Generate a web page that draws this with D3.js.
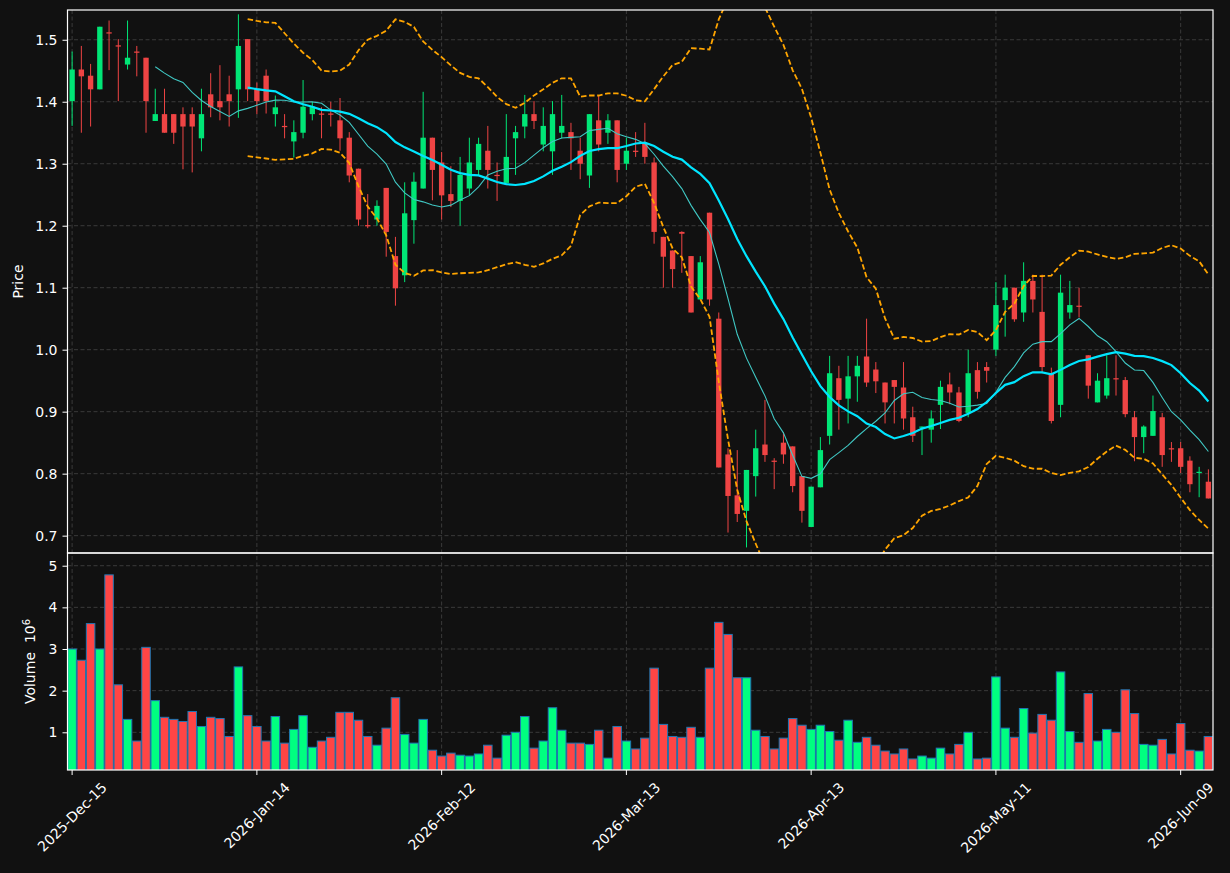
<!DOCTYPE html>
<html>
<head>
<meta charset="utf-8">
<script src="https://cdn.jsdelivr.net/npm/d3@7"></script>
<style>
  body { margin: 0; background: #111111; }
  text { font-family: "DejaVu Sans", sans-serif; }
</style>
</head>
<body>
<div id="container"></div>
<script>
// candle data, one entry per trading day starting 2025-12-15
const opens = [1.401,1.452,1.442,1.420,1.512,1.491,1.460,1.481,1.471,1.369,
  1.380,1.380,1.380,1.380,1.341,1.412,1.401,1.412,1.420,1.501,
  1.421,1.442,1.380,1.361,1.336,1.350,1.380,1.381,1.381,1.370,
  1.342,1.292,1.201,1.210,1.261,1.151,1.120,1.209,1.260,1.342,
  1.302,1.251,1.240,1.260,1.290,1.321,1.282,1.269,1.341,1.360,
  1.380,1.331,1.320,1.350,1.351,1.321,1.281,1.370,1.350,1.370,
  1.300,1.321,1.332,1.302,1.182,1.160,1.190,1.151,1.081,1.221,
  1.050,0.831,0.765,0.740,0.796,0.847,0.821,0.850,0.844,0.796,
  0.714,0.778,0.861,0.954,0.921,0.957,0.989,0.968,0.947,0.951,
  0.939,0.891,0.874,0.871,0.911,0.944,0.931,0.898,0.967,0.972,
  1.000,1.080,1.100,1.060,1.111,1.061,0.962,0.911,1.060,1.071,
  0.991,0.915,0.926,0.954,0.951,0.891,0.859,0.861,0.891,0.841,
  0.841,0.821,0.802,0.787];
const highs = [1.481,1.490,1.461,1.521,1.531,1.501,1.531,1.490,1.471,1.421,
  1.421,1.380,1.391,1.391,1.421,1.446,1.459,1.442,1.541,1.501,
  1.431,1.452,1.410,1.380,1.370,1.435,1.400,1.391,1.400,1.406,
  1.351,1.292,1.251,1.241,1.261,1.182,1.270,1.286,1.416,1.342,
  1.319,1.296,1.311,1.342,1.342,1.361,1.302,1.380,1.361,1.411,
  1.401,1.391,1.401,1.411,1.366,1.342,1.380,1.410,1.380,1.370,
  1.342,1.351,1.366,1.310,1.182,1.160,1.191,1.151,1.151,1.221,
  1.060,0.841,0.838,0.806,0.871,0.919,0.825,0.867,0.844,0.796,
  0.779,0.859,0.990,0.974,0.990,0.990,1.050,0.980,0.947,0.951,
  0.980,0.908,0.876,0.902,0.950,0.963,0.940,1.000,0.980,0.980,
  1.109,1.121,1.100,1.141,1.121,1.121,0.971,1.121,1.111,1.100,
  0.991,0.962,0.991,0.991,0.956,0.901,0.878,0.926,0.898,0.851,
  0.851,0.828,0.811,0.807];
const lows = [1.361,1.350,1.360,1.420,1.451,1.401,1.452,1.441,1.350,1.369,
  1.350,1.332,1.291,1.286,1.320,1.375,1.370,1.360,1.374,1.401,
  1.380,1.381,1.360,1.341,1.310,1.341,1.370,1.341,1.360,1.321,
  1.270,1.200,1.196,1.200,1.150,1.071,1.109,1.171,1.260,1.241,
  1.210,1.230,1.200,1.249,1.281,1.260,1.240,1.269,1.282,1.341,
  1.356,1.320,1.282,1.341,1.290,1.275,1.261,1.320,1.332,1.270,
  1.290,1.311,1.300,1.171,1.100,1.100,1.124,1.060,1.081,1.071,
  0.810,0.705,0.722,0.681,0.763,0.819,0.775,0.816,0.770,0.721,
  0.714,0.778,0.847,0.871,0.881,0.916,0.940,0.930,0.881,0.881,
  0.871,0.851,0.830,0.850,0.872,0.912,0.883,0.891,0.921,0.947,
  0.990,1.021,1.045,1.045,1.060,0.962,0.881,0.891,1.050,1.052,
  0.921,0.915,0.921,0.926,0.891,0.820,0.833,0.861,0.811,0.819,
  0.801,0.770,0.762,0.760];
const closes = [1.452,1.441,1.420,1.521,1.510,1.489,1.471,1.479,1.401,1.380,
  1.350,1.350,1.360,1.360,1.380,1.391,1.391,1.401,1.490,1.420,
  1.401,1.401,1.391,1.359,1.351,1.392,1.392,1.379,1.379,1.341,
  1.281,1.210,1.199,1.232,1.190,1.099,1.220,1.271,1.342,1.290,
  1.249,1.240,1.282,1.302,1.332,1.290,1.281,1.311,1.351,1.380,
  1.369,1.361,1.380,1.361,1.341,1.300,1.380,1.331,1.370,1.290,
  1.321,1.319,1.311,1.190,1.150,1.130,1.187,1.060,1.141,1.081,
  0.810,0.764,0.735,0.806,0.841,0.830,0.819,0.831,0.780,0.740,
  0.779,0.838,0.962,0.919,0.957,0.974,0.947,0.949,0.915,0.940,
  0.889,0.861,0.876,0.889,0.940,0.931,0.885,0.962,0.932,0.966,
  1.072,1.100,1.049,1.111,1.081,0.972,0.885,1.092,1.072,1.070,
  0.942,0.950,0.954,0.952,0.896,0.859,0.876,0.901,0.830,0.839,
  0.811,0.783,0.803,0.760];
// volume in millions
const volumes = [3.00,2.73,3.61,3.00,4.78,2.14,1.31,0.79,3.04,1.76,
  1.36,1.31,1.26,1.50,1.14,1.36,1.33,0.90,2.57,1.40,
  1.14,0.79,1.38,0.74,1.07,1.40,0.64,0.79,0.88,1.48,
  1.48,1.29,0.90,0.69,1.10,1.83,0.95,0.74,1.31,0.57,
  0.43,0.50,0.45,0.43,0.48,0.69,0.38,0.93,1.00,1.38,
  0.62,0.79,1.59,1.05,0.74,0.74,0.71,1.05,0.38,1.14,
  0.79,0.60,0.86,2.54,1.19,0.90,0.88,1.12,0.88,2.54,
  3.64,3.35,2.31,2.31,1.05,0.90,0.60,0.86,1.33,1.17,
  1.07,1.17,1.02,0.81,1.29,0.76,0.88,0.69,0.55,0.48,
  0.60,0.36,0.43,0.38,0.62,0.48,0.71,1.00,0.36,0.38,
  2.33,1.10,0.88,1.57,0.98,1.43,1.29,2.45,1.02,0.76,
  1.93,0.79,1.07,1.00,2.02,1.45,0.71,0.69,0.83,0.48,
  1.21,0.57,0.55,0.90];

const startDay = "2025-12-15";
const holidays = ["2025-12-25","2026-01-01","2026-01-19","2026-02-16","2026-04-03","2026-05-25"];
const tickLabels = ["2025-Dec-15","2026-Jan-14","2026-Feb-12","2026-Mar-13","2026-Apr-13","2026-May-11","2026-Jun-09"];
const priceTicks = [0.7,0.8,0.9,1.0,1.1,1.2,1.3,1.4,1.5];
const volumeTicks = [1,2,3,4,5];

const N = closes.length;
const parse = d3.timeParse("%Y-%m-%d"),
      fmtDay = d3.timeFormat("%Y-%m-%d"),
      fmtTick = d3.timeFormat("%Y-%b-%d");

// trading calendar (weekdays minus market holidays)
const dates = [];
let day = parse(startDay);
while (dates.length < N) {
  const wd = day.getDay();
  if (wd !== 0 && wd !== 6 && !holidays.includes(fmtDay(day))) dates.push(day);
  day = d3.timeDay.offset(day, 1);
}
const tickIdx = tickLabels.map(l => dates.findIndex(d => fmtTick(d) === l));

// moving averages and bollinger bands
function rolling(n, f) {
  return closes.map((c, i) => i < n - 1 ? null : f(closes.slice(i - n + 1, i + 1)));
}
const ma10 = rolling(10, d3.mean);
const ma20 = rolling(20, d3.mean);
const sd20 = rolling(20, d3.deviation);
const bbUp = ma20.map((m, i) => m == null ? null : m + 2 * sd20[i]);
const bbLo = ma20.map((m, i) => m == null ? null : m - 2 * sd20[i]);

const W = 1230, H = 873;
const left = 67.5, right = 1213, pTop = 10, pBot = 553, vBot = 770;
const upC = "#00e676", downC = "#ef4444", upV = "#00ff80", downV = "#ff4545";
const gridC = "#3a3a3a";

const svg = d3.select("#container").append("svg")
  .attr("width", W).attr("height", H)
  .style("background", "#111111");

const x = d3.scaleLinear().domain([-0.5, N - 0.5]).range([left, right]);
const y = d3.scaleLinear().domain([0.672, 1.548]).range([pBot, pTop]);
const yv = d3.scaleLinear().domain([0.095, 5.305]).range([vBot, pBot]);
const step = x(1) - x(0);

svg.append("clipPath").attr("id", "pclip")
  .append("rect").attr("x", left).attr("y", pTop).attr("width", right - left).attr("height", pBot - pTop);
svg.append("clipPath").attr("id", "vclip")
  .append("rect").attr("x", left).attr("y", pBot).attr("width", right - left).attr("height", vBot - pBot);

// grid
const grid = svg.append("g").attr("stroke", gridC).attr("stroke-width", 1).attr("stroke-dasharray", "4,2.5");
grid.selectAll(".gy").data(priceTicks).join("line")
  .attr("x1", left).attr("x2", right).attr("y1", d => y(d)).attr("y2", d => y(d));
grid.selectAll(".gv").data(volumeTicks).join("line").attr("class", "gv")
  .attr("x1", left).attr("x2", right).attr("y1", d => yv(d)).attr("y2", d => yv(d));
grid.selectAll(".gx").data(tickIdx).join("line").attr("class", "gx")
  .attr("x1", d => x(d)).attr("x2", d => x(d)).attr("y1", pTop).attr("y2", vBot);

// candles
const isUp = i => closes[i] >= opens[i];
const pg = svg.append("g").attr("clip-path", "url(#pclip)");
pg.selectAll(".wick").data(d3.range(N)).join("line")
  .attr("x1", i => x(i)).attr("x2", i => x(i))
  .attr("y1", i => y(highs[i])).attr("y2", i => y(lows[i]))
  .attr("stroke", i => isUp(i) ? upC : downC).attr("stroke-width", 1);
const bw = step * 0.58;
pg.selectAll(".body").data(d3.range(N)).join("rect")
  .attr("x", i => x(i) - bw / 2).attr("width", bw)
  .attr("y", i => y(Math.max(opens[i], closes[i])))
  .attr("height", i => Math.max(1.2, Math.abs(y(opens[i]) - y(closes[i]))))
  .attr("fill", i => isUp(i) ? upC : downC);

// indicator lines
const line = d3.line().defined(d => d != null).x((d, i) => x(i)).y(d => y(d));
pg.append("path").datum(ma10).attr("d", line)
  .attr("fill", "none").attr("stroke", "#40c8c4").attr("stroke-width", 1.1);
pg.append("path").datum(ma20).attr("d", line)
  .attr("fill", "none").attr("stroke", "#00e5ff").attr("stroke-width", 2.2);
[bbUp, bbLo].forEach(b => {
  pg.append("path").datum(b).attr("d", line)
    .attr("fill", "none").attr("stroke", "#ffa500").attr("stroke-width", 1.8)
    .attr("stroke-dasharray", "5.5,2.6");
});

// volume bars
const vg = svg.append("g").attr("clip-path", "url(#vclip)");
const vw = step * 0.92;
vg.selectAll("rect").data(volumes).join("rect")
  .attr("x", (d, i) => x(i) - vw / 2).attr("width", vw)
  .attr("y", d => yv(d)).attr("height", d => vBot + 2 - yv(d))
  .attr("fill", (d, i) => isUp(i) ? upV : downV)
  .attr("stroke", "#1f77b4").attr("stroke-width", 1);

// axes
function styleAxis(g) {
  g.select(".domain").remove();
  g.selectAll(".tick line").attr("stroke", "#ffffff");
  g.selectAll(".tick text").attr("fill", "#ffffff").style("font-size", "14px")
    .style("font-family", "DejaVu Sans, sans-serif");
}
svg.append("g").attr("transform", `translate(${left},0)`)
  .call(d3.axisLeft(y).tickValues(priceTicks).tickFormat(d3.format(".1f")).tickSize(5).tickPadding(5))
  .call(styleAxis);
svg.append("g").attr("transform", `translate(${left},0)`)
  .call(d3.axisLeft(yv).tickValues(volumeTicks).tickFormat(d3.format("d")).tickSize(5).tickPadding(5))
  .call(styleAxis);

const xa = svg.append("g");
xa.selectAll("line").data(tickIdx).join("line")
  .attr("x1", d => x(d)).attr("x2", d => x(d)).attr("y1", vBot).attr("y2", vBot + 5)
  .attr("stroke", "#ffffff");
xa.selectAll("text").data(tickIdx).join("text")
  .text(d => fmtTick(dates[d]))
  .attr("fill", "#ffffff").style("font-size", "14px")
  .attr("text-anchor", "middle").attr("dominant-baseline", "central")
  .each(function(d) {
    const len = this.getComputedTextLength();
    const cy = vBot + 10 + (len + 14) * Math.SQRT1_2 / 2;
    d3.select(this).attr("x", x(d)).attr("y", cy)
      .attr("transform", `rotate(-45,${x(d)},${cy})`);
  });

// spines
svg.append("rect").attr("x", left).attr("y", pTop).attr("width", right - left).attr("height", pBot - pTop)
  .attr("fill", "none").attr("stroke", "#ffffff").attr("stroke-width", 1.2);
svg.append("rect").attr("x", left).attr("y", pBot).attr("width", right - left).attr("height", vBot - pBot)
  .attr("fill", "none").attr("stroke", "#ffffff").attr("stroke-width", 1.2);

// axis labels
svg.append("text").text("Price")
  .attr("transform", `translate(18,${(pTop + pBot) / 2}) rotate(-90)`)
  .attr("text-anchor", "middle").attr("dominant-baseline", "central")
  .attr("fill", "#ffffff").style("font-size", "14px");
const vl = svg.append("text")
  .attr("transform", `translate(30,${(pBot + vBot) / 2}) rotate(-90)`)
  .attr("text-anchor", "middle").attr("dominant-baseline", "central")
  .attr("fill", "#ffffff").style("font-size", "14px");
vl.append("tspan").text("Volume\u00a0\u00a010");
vl.append("tspan").text("6").attr("dy", "-0.45em").style("font-size", "10px");
</script>
</body>
</html>
